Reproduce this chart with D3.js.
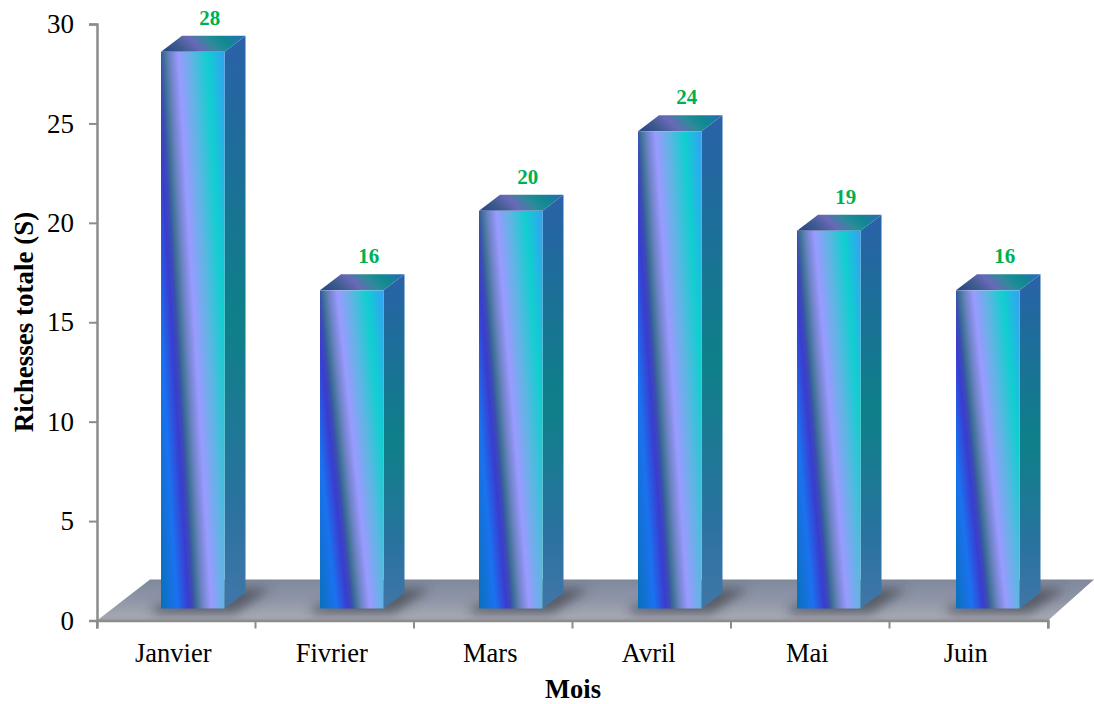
<!DOCTYPE html>
<html>
<head>
<meta charset="utf-8">
<script src="https://cdn.jsdelivr.net/npm/d3@7/dist/d3.min.js"></script>
<style>
html,body{margin:0;padding:0;background:#fff}
svg{display:block}
text{font-family:"Liberation Serif","Times New Roman",serif}
</style>
</head>
<body>
<svg id="chart" width="1094" height="704"></svg>
<script>
// Monthly total species richness
const months = ["Janvier", "Fivrier", "Mars", "Avril", "Mai", "Juin"];
const richness = [28, 16, 20, 24, 19, 16];
const yTickValues = [0, 5, 10, 15, 20, 25, 30];

const axisLeftX = 97, axisRightX = 1048, axisBottomY = 620.5, axisTopY = 24;
const depthX = 21, depthY = 16;          // oblique offset of the 3D depth
const frontLift = 12;                    // bars stand this far above the front floor edge
const barWidth = 63.5;

const svg = d3.select("#chart");
const x = d3.scaleBand().domain(months).range([axisLeftX, axisRightX]);
// Bars sit on the floor plane, whose spacing is slightly wider than the axis bands
const barX = d3.scaleBand().domain(months).range([161, 161 + 6 * 159]);
const y = d3.scaleLinear().domain([0, 30]).range([axisBottomY, axisTopY]);
const defs = svg.append("defs");

function linear(id, coords, stops) {
  const g = defs.append("linearGradient").attr("id", id)
    .attr("x1", coords[0]).attr("y1", coords[1]).attr("x2", coords[2]).attr("y2", coords[3]);
  stops.forEach(([o, c]) => g.append("stop").attr("offset", o).attr("stop-color", c));
}

// Slanted metallic banding on the front faces
linear("frontFace", [0, 1, 1.197, 0.378], [
  [0, "#0a70b8"], [0.17, "#1a72f0"], [0.285, "#3a3cd0"], [0.335, "#3a4fb0"], [0.375, "#3f7396"],
  [0.43, "#6c82c4"], [0.52, "#9a9aff"], [0.67, "#5cb6e2"], [0.82, "#10cfd0"], [1, "#34a0f4"]
]);
linear("sideFace", [0, 0, 0, 1], [
  [0, "#2b62a8"], [0.12, "#22689f"], [0.5, "#0e8088"], [0.82, "#2a72a0"], [1, "#4076a8"]
]);
linear("topFace", [0, 0.6, 1, 0.4], [
  [0, "#2b4a88"], [0.2, "#3f5c90"], [0.4, "#6a68b8"], [0.6, "#2f8a9c"], [0.78, "#0f8a90"], [1, "#2570b0"]
]);
linear("floorFill", [0, 0, 0, 1], [
  [0, "#7f889c"], [0.5, "#9096a8"], [0.9, "#a4a7b2"], [1, "#9c9ea6"]
]);

const blur = defs.append("filter").attr("id", "soft")
  .attr("x", "-40%").attr("y", "-80%").attr("width", "180%").attr("height", "260%");
blur.append("feGaussianBlur").attr("stdDeviation", 5.5);

defs.append("clipPath").attr("id", "floorClip").append("polygon")
  .attr("points", floorPoints());

function floorPoints() {
  const top = axisBottomY - 41;
  return [[axisLeftX, axisBottomY], [axisLeftX + 53, top], [axisRightX + 46, top], [axisRightX, axisBottomY]]
    .map(p => p.join(",")).join(" ");
}

// Floor of the 3D plot
svg.append("polygon").attr("points", floorPoints()).attr("fill", "url(#floorFill)");

// Soft shadows cast by the bars on the floor
const baseY = axisBottomY - frontLift;
svg.append("g").attr("clip-path", "url(#floorClip)")
  .selectAll("polygon").data(months).join("polygon")
  .attr("filter", "url(#soft)")
  .attr("fill", "#3a3d46").attr("fill-opacity", 0.65)
  .attr("points", d => {
    const l = barX(d) - 8, r = barX(d) + barWidth + 10;
    return [[l, baseY + 5], [r, baseY + 5], [r + depthX + 16, baseY - depthY - 4], [r, baseY - depthY - 4], [l, baseY - 2]]
      .map(p => p.join(",")).join(" ");
  });

// Axes
const yAxis = d3.axisLeft(y).tickValues(yTickValues).tickSize(8).tickPadding(15);
const xAxis = d3.axisBottom(x).tickSize(8).tickFormat("").tickValues([]);

const yG = svg.append("g").attr("transform", `translate(${axisLeftX},0)`).call(yAxis);
const xG = svg.append("g").attr("transform", `translate(0,${axisBottomY})`).call(xAxis);
xG.selectAll(".boundary").data(d3.range(months.length + 1)).join("line").attr("class", "boundary")
  .attr("x1", i => axisLeftX + i * x.step()).attr("x2", i => axisLeftX + i * x.step())
  .attr("y1", 0).attr("y2", 8)
  .attr("stroke", "#8c8c8c").attr("stroke-width", 2);
xG.selectAll(".cat").data(months).join("text").attr("class", "cat")
  .attr("x", d => x(d) + x.bandwidth() / 2 - 3).attr("y", 41)
  .attr("text-anchor", "middle").attr("fill", "#000").attr("font-size", 26.5)
  .text(d => d);

[yG, xG].forEach(g => {
  g.select(".domain").attr("stroke", "#8c8c8c").attr("stroke-width", 2.5);
});
yG.selectAll(".tick line").attr("stroke", "#8c8c8c").attr("stroke-width", 2);
yG.selectAll(".tick text").attr("font-size", 27).attr("fill", "#000")
  .attr("font-family", '"Liberation Serif",serif');

// Bars: side, top and front faces
const bars = svg.append("g").selectAll("g").data(months.map((m, i) => ({ m, v: richness[i] }))).join("g");
const frontLeft = d => barX(d.m);
const frontTop = d => y(d.v) - frontLift;

bars.append("polygon").attr("fill", "url(#sideFace)")
  .attr("points", d => {
    const r = frontLeft(d) + barWidth, t = frontTop(d);
    return [[r, t], [r + depthX, t - depthY], [r + depthX, baseY - depthY], [r, baseY]].map(p => p.join(",")).join(" ");
  });
bars.append("polygon").attr("fill", "url(#topFace)")
  .attr("points", d => {
    const l = frontLeft(d), r = l + barWidth, t = frontTop(d);
    return [[l, t], [l + depthX, t - depthY], [r + depthX, t - depthY], [r, t]].map(p => p.join(",")).join(" ");
  });
bars.append("rect").attr("fill", "url(#frontFace)")
  .attr("x", frontLeft).attr("y", frontTop)
  .attr("width", barWidth).attr("height", d => baseY - frontTop(d));

// Value labels above the bars
bars.append("text")
  .attr("x", d => frontLeft(d) + barWidth / 2 + 17)
  .attr("y", d => frontTop(d) - 27)
  .attr("text-anchor", "middle").attr("font-weight", "bold").attr("font-size", 21)
  .attr("fill", "#00b050")
  .text(d => d.v);

// Axis titles
svg.append("text").attr("x", 573).attr("y", 698)
  .attr("text-anchor", "middle").attr("font-weight", "bold").attr("font-size", 26.5).attr("fill", "#000")
  .text("Mois");
svg.append("text").attr("transform", "translate(33,322) rotate(-90)")
  .attr("text-anchor", "middle").attr("font-weight", "bold").attr("font-size", 27).attr("fill", "#000")
  .text("Richesses totale (S)");
</script>
</body>
</html>
